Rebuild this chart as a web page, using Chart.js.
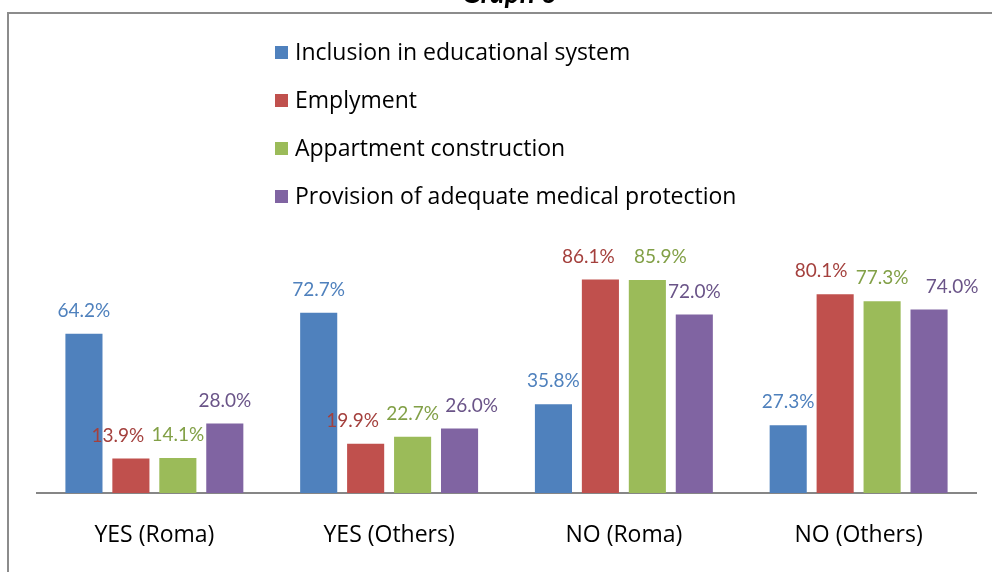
<!DOCTYPE html>
<html>
<head>
<meta charset="utf-8">
<script src="https://cdn.jsdelivr.net/npm/chart.js@4/dist/chart.umd.min.js"></script>
<style>
html,body{margin:0;padding:0;background:#fff;}
#wrap{position:relative;width:992px;height:572px;}
</style>
</head>
<body>
<div id="wrap"><canvas id="c" width="992" height="572"></canvas></div>
<script>
const titleText = "Graph 6";
const categories = ["YES (Roma)", "YES (Others)", "NO (Roma)", "NO (Others)"];
const seriesNames = ["Inclusion in educational system", "Emplyment", "Appartment construction", "Provision of adequate medical protection"];
const education = [64.2, 72.7, 35.8, 27.3];
const employment = [13.9, 19.9, 86.1, 80.1];
const apartments = [14.1, 22.7, 85.9, 77.3];
const medical = [28.0, 26.0, 72.0, 74.0];
const seriesColors = ["#4F81BD", "#C0504D", "#9BBB59", "#8064A2"];
const labelColors = ["#4F81BD", "#A4403D", "#82A047", "#6A5488"];
// manual horizontal nudges of data labels (pixels), as in the original
const labelNudge = [
  [0, 0, 0, 0],
  [-13, -13, -12, -14],
  [0, 0, 13, 0],
  [0, 12, 0, 23]
];

const FONT = "Lato, 'Open Sans', sans-serif";
const TEXTFONT = "'Open Sans', Lato, sans-serif";

const framePlugin = {
  id: 'frame',
  beforeDraw(chart) {
    const ctx = chart.ctx;
    ctx.save();
    ctx.fillStyle = '#fff';
    ctx.fillRect(0, 0, chart.width, chart.height);
    ctx.strokeStyle = '#8C8C8C';
    ctx.lineWidth = 2;
    ctx.beginPath();
    ctx.moveTo(8, chart.height + 2);
    ctx.lineTo(8, 13);
    ctx.lineTo(chart.width + 2, 13);
    ctx.stroke();
    ctx.font = "italic bold 28px " + FONT;
    ctx.fillStyle = '#000';
    ctx.textAlign = 'center';
    ctx.textBaseline = 'alphabetic';
    ctx.fillText(titleText, 509, 3);
    ctx.restore();
  }
};

const legendPlugin = {
  id: 'vlegend',
  afterDraw(chart) {
    const ctx = chart.ctx;
    ctx.save();
    ctx.font = "23px " + TEXTFONT;
    ctx.textBaseline = 'middle';
    ctx.textAlign = 'left';
    chart.data.datasets.forEach((ds, i) => {
      const cy = 52 + i * 48;
      ctx.fillStyle = ds.backgroundColor;
      ctx.fillRect(275, cy - 6, 13, 13);
      ctx.fillStyle = '#000';
      ctx.fillText(ds.label, 295, cy + 1);
    });
    ctx.restore();
  }
};

const labelPlugin = {
  id: 'vlabels',
  afterDatasetsDraw(chart) {
    const ctx = chart.ctx;
    ctx.save();
    ctx.font = "19px " + FONT;
    ctx.textAlign = 'center';
    ctx.textBaseline = 'middle';
    chart.data.datasets.forEach((ds, i) => {
      const meta = chart.getDatasetMeta(i);
      meta.data.forEach((bar, j) => {
        ctx.fillStyle = labelColors[i];
        ctx.fillText(ds.data[j].toFixed(1) + '%', bar.x + labelNudge[i][j], bar.y - 23);
      });
    });
    ctx.restore();
  }
};

const dataSets = [education, employment, apartments, medical].map((d, i) => ({
  label: seriesNames[i],
  data: d,
  backgroundColor: seriesColors[i],
  borderWidth: 0,
  categoryPercentage: 0.8,
  barPercentage: 0.79
}));

new Chart(document.getElementById('c'), {
  type: 'bar',
  data: { labels: categories, datasets: dataSets },
  options: {
    responsive: false,
    animation: false,
    layout: { padding: { left: 37, right: 16, top: 245, bottom: 22 } },
    plugins: { legend: { display: false }, tooltip: { enabled: false }, title: { display: false } },
    scales: {
      x: {
        grid: { display: false, drawTicks: false },
        border: { display: true, color: '#868686', width: 2 },
        ticks: { color: '#000', font: { family: TEXTFONT, size: 23 }, padding: 29 },
        afterFit(scale) { scale.height = 57; }
      },
      y: { display: false, min: 0, max: 100 }
    }
  },
  plugins: [framePlugin, labelPlugin, legendPlugin]
});
</script>
</body>
</html>
